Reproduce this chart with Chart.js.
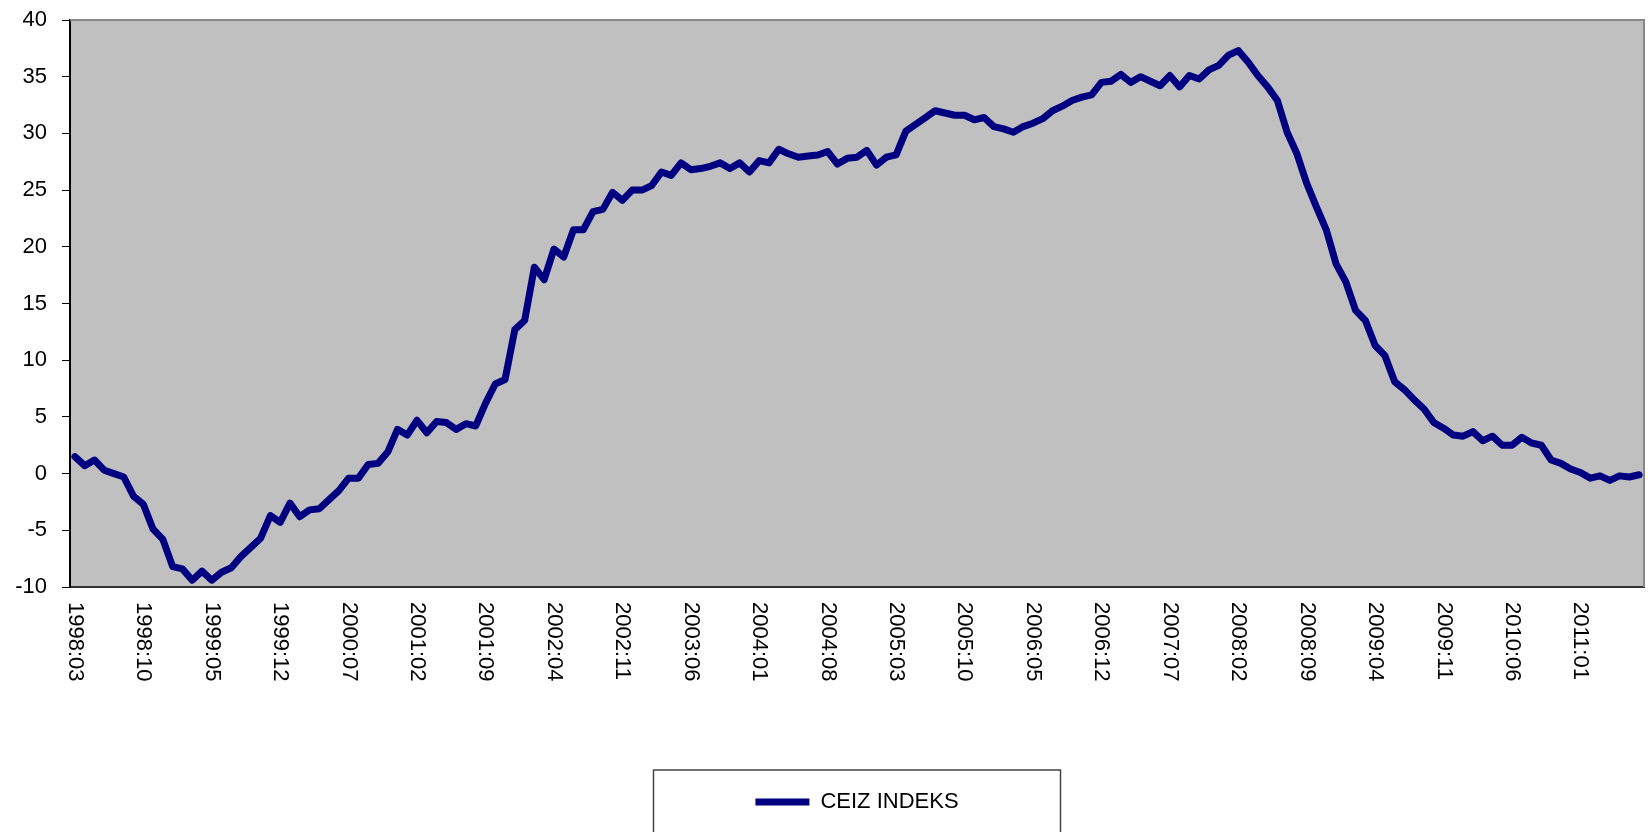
<!DOCTYPE html>
<html>
<head>
<meta charset="utf-8">
<script src="https://cdn.jsdelivr.net/npm/chart.js@4.4.0/dist/chart.umd.min.js"></script>
<style>
  html, body { margin: 0; padding: 0; background: #fff; }
</style>
</head>
<body>
<canvas id="ceizChart" width="1648" height="832"></canvas>
<script>
// monthly categories 1998:03 .. 2011:07
const firstYear = 1998;
const firstMonth = 3;
const monthCount = 161;

const months = [];
for (let i = 0; i < monthCount; i++) {
  const m = firstMonth - 1 + i;
  months.push((firstYear + Math.floor(m / 12)) + ":" + String((m % 12) + 1).padStart(2, "0"));
}

// labels shown under the axis (every 7th month)
const tickLabels = [
  "1998:03", "1998:10", "1999:05", "1999:12", "2000:07", "2001:02", "2001:09",
  "2002:04", "2002:11", "2003:06", "2004:01", "2004:08", "2005:03", "2005:10",
  "2006:05", "2006:12", "2007:07", "2008:02", "2008:09", "2009:04", "2009:11",
  "2010:06", "2011:01"
];

const ceizIndeks = [
  1.5, 0.7, 1.2, 0.3, 0.0, -0.3, -2.0, -2.7, -4.9, -5.8,
  -8.2, -8.4, -9.4, -8.6, -9.4, -8.7, -8.3, -7.3, -6.5, -5.7,
  -3.7, -4.3, -2.6, -3.8, -3.2, -3.1, -2.3, -1.5, -0.4, -0.4,
  0.8, 0.9, 1.9, 3.9, 3.4, 4.7, 3.6, 4.6, 4.5, 3.9,
  4.4, 4.2, 6.2, 7.9, 8.3, 12.7, 13.5, 18.2, 17.1, 19.8,
  19.1, 21.5, 21.5, 23.1, 23.3, 24.8, 24.1, 25.0, 25.0, 25.4,
  26.6, 26.3, 27.4, 26.8, 26.9, 27.1, 27.4, 26.9, 27.4, 26.6,
  27.6, 27.4, 28.6, 28.2, 27.9, 28.0, 28.1, 28.4, 27.3, 27.8,
  27.9, 28.5, 27.2, 27.9, 28.1, 30.2, 30.8, 31.4, 32.0, 31.8,
  31.6, 31.6, 31.2, 31.4, 30.6, 30.4, 30.1, 30.6, 30.9, 31.3,
  32.0, 32.4, 32.9, 33.2, 33.4, 34.5, 34.6, 35.2, 34.5, 35.0,
  34.6, 34.2, 35.1, 34.1, 35.1, 34.8, 35.6, 36.0, 36.9, 37.3,
  36.3, 35.1, 34.1, 32.9, 30.1, 28.2, 25.6, 23.5, 21.5, 18.5,
  16.9, 14.4, 13.5, 11.3, 10.4, 8.1, 7.4, 6.5, 5.7, 4.5,
  4.0, 3.4, 3.3, 3.7, 2.9, 3.3, 2.5, 2.5, 3.2, 2.7,
  2.5, 1.2, 0.9, 0.4, 0.1, -0.4, -0.2, -0.6, -0.2, -0.3,
  -0.1
];

const FONT = "'Liberation Sans', Arial, sans-serif";
Chart.defaults.font.family = FONT;
Chart.defaults.font.size = 22;
Chart.defaults.color = "#000";

// grey plot area + frame, rotated month labels, legend frame
const excelLook = {
  id: "excelLook",
  beforeDraw(chart) {
    const { ctx, chartArea: a } = chart;
    ctx.save();
    ctx.fillStyle = "#c0c0c0";
    ctx.fillRect(a.left, a.top, a.right - a.left, a.bottom - a.top);
    ctx.restore();
  },
  beforeDatasetsDraw(chart) {
    const { ctx, chartArea: a } = chart;
    ctx.save();
    ctx.strokeStyle = "#888";
    ctx.lineWidth = 2;
    ctx.beginPath();
    ctx.moveTo(a.left, a.top);
    ctx.lineTo(a.right, a.top);
    ctx.lineTo(a.right, a.bottom);
    ctx.stroke();
    ctx.restore();
  },
  afterDraw(chart) {
    const ctx = chart.ctx;
    const xs = chart.scales.x;
    ctx.save();
    ctx.font = "22px " + FONT;
    ctx.fillStyle = "#000";
    ctx.textAlign = "left";
    ctx.textBaseline = "middle";
    months.forEach((m, i) => {
      if (!tickLabels.includes(m)) return;
      ctx.save();
      ctx.translate(xs.getPixelForValue(i), xs.top + 15);
      ctx.rotate(Math.PI / 2);
      ctx.fillText(m, 0, 0);
      ctx.restore();
    });

    const hb = chart.legend.legendHitBoxes[0];
    if (hb) {
      const cx = hb.left + hb.width / 2;
      const cy = hb.top + hb.height / 2;
      ctx.strokeStyle = "#444";
      ctx.lineWidth = 1.5;
      ctx.strokeRect(cx - 203.5, cy - 32, 407, 90);
    }
    ctx.restore();
  }
};

new Chart(document.getElementById("ceizChart"), {
  type: "line",
  data: {
    labels: months,
    datasets: [{
      label: "CEIZ INDEKS",
      data: ceizIndeks,
      borderColor: "#000080",
      backgroundColor: "#000080",
      borderWidth: 7,
      borderJoinStyle: "round",
      borderCapStyle: "round",
      pointRadius: 0,
      tension: 0,
    }],
  },
  options: {
    responsive: false,
    animation: false,
    devicePixelRatio: 1,
    layout: { padding: { top: 20, right: 4, bottom: 9, left: 0 } },
    plugins: {
      tooltip: { enabled: false },
      legend: {
        position: "bottom",
        fullSize: false,
        labels: {
          usePointStyle: true,
          pointStyle: "line",
          pointStyleWidth: 54,
          padding: 10,
          color: "#000",
          font: { size: 22 },
        },
      },
    },
    scales: {
      x: {
        offset: true,
        grid: { display: false },
        ticks: { display: false },
        border: { display: true, color: "#333", width: 2 },
        afterFit: (scale) => { scale.height = 194; },
      },
      y: {
        min: -10,
        max: 40,
        ticks: { stepSize: 5, padding: 15, color: "#000", font: { size: 22 } },
        grid: { drawOnChartArea: false, drawTicks: true, tickLength: 8, color: "#000", lineWidth: 1 },
        border: { display: true, color: "#000", width: 2 },
        afterFit: (scale) => {
          scale.width = 70;
          scale.paddingTop = 0;
          scale.paddingBottom = 0;
        },
      },
    },
  },
  plugins: [excelLook],
});
</script>
</body>
</html>
